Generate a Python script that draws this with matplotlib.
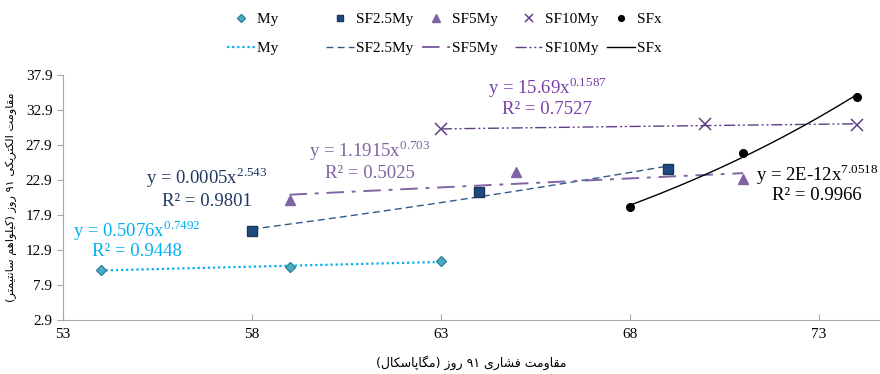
import numpy as np
import matplotlib
matplotlib.use("Agg")
import matplotlib.pyplot as plt
from matplotlib.lines import Line2D

plt.rcParams['font.family'] = ['Liberation Serif', 'DejaVu Sans']
plt.rcParams['mathtext.fontset'] = 'custom'
plt.rcParams['mathtext.rm'] = 'Liberation Serif'

# data (x: compressive strength, y: electrical resistivity)
my_x = [54, 59, 63]
my_y = [10.05, 10.5, 11.3]
sf25_x = [58, 64, 69]
sf25_y = [15.65, 21.2, 24.4]
sf5_x = [59, 65, 71]
sf5_y = [20.1, 24.0, 23.0]
sf10_x = [63, 70, 74]
sf10_y = [30.1, 30.9, 30.75]
sfx_x = [68, 71, 74]
sfx_y = [19.1, 26.7, 34.7]

names = ['My', 'SF2.5My', 'SF5My', 'SF10My', 'SFx']
equations = [r'y = 0.5076x$^{\mathregular{0.7492}}$',
             r'y = 0.0005x$^{\mathregular{2.543}}$',
             r'y = 1.1915x$^{\mathregular{0.703}}$',
             r'y = 15.69x$^{\mathregular{0.1587}}$',
             r'y = 2E-12x$^{\mathregular{7.0518}}$']
r2 = ['R² = 0.9448', 'R² = 0.9801', 'R² = 0.5025', 'R² = 0.7527', 'R² = 0.9966']

xlabel = 'مقاومت فشاری ۹۱ روز (مگاپاسکال)'
ylabel = 'مقاومت الکتریکی ۹۱ روز (کیلواهم سانتیمتر)'

# --- tiny persian shaper (matplotlib has no arabic shaping) ---
forms = {
    'ا': ('\uFE8D', '\uFE8E', None, None),
    'ت': ('\uFE95', '\uFE96', '\uFE97', '\uFE98'),
    'ر': ('\uFEAD', '\uFEAE', None, None),
    'ز': ('\uFEAF', '\uFEB0', None, None),
    'س': ('\uFEB1', '\uFEB2', '\uFEB3', '\uFEB4'),
    'ش': ('\uFEB5', '\uFEB6', '\uFEB7', '\uFEB8'),
    'ف': ('\uFED1', '\uFED2', '\uFED3', '\uFED4'),
    'ق': ('\uFED5', '\uFED6', '\uFED7', '\uFED8'),
    'ل': ('\uFEDD', '\uFEDE', '\uFEDF', '\uFEE0'),
    'م': ('\uFEE1', '\uFEE2', '\uFEE3', '\uFEE4'),
    'ن': ('\uFEE5', '\uFEE6', '\uFEE7', '\uFEE8'),
    'ه': ('\uFEE9', '\uFEEA', '\uFEEB', '\uFEEC'),
    'و': ('\uFEED', '\uFEEE', None, None),
    'پ': ('\uFB56', '\uFB57', '\uFB58', '\uFB59'),
    'ک': ('\uFB8E', '\uFB8F', '\uFB90', '\uFB91'),
    'گ': ('\uFB92', '\uFB93', '\uFB94', '\uFB95'),
    'ی': ('\uFBFC', '\uFBFD', '\uFBFE', '\uFBFF'),
}


def shape(s):
    out = []
    for i, c in enumerate(s):
        if c not in forms:
            out.append(c)
            continue
        p = s[i - 1] if i > 0 else ''
        n = s[i + 1] if i + 1 < len(s) else ''
        join_prev = p in forms and forms[p][2] is not None
        join_next = n in forms and forms[c][2] is not None
        iso, fin, ini, med = forms[c]
        if join_prev and join_next:
            out.append(med)
        elif join_prev:
            out.append(fin)
        elif join_next:
            out.append(ini)
        else:
            out.append(iso)
    vis = ''.join(out)[::-1]
    # digits stay left-to-right, brackets are mirrored
    res, run = '', ''
    for c in vis:
        if c in '۰۱۲۳۴۵۶۷۸۹':
            run += c
        else:
            res += run[::-1]
            run = ''
            res += {'(': ')', ')': '('}.get(c, c)
    return res + run[::-1]


def power_fit(x, y):
    b, a = np.polyfit(np.log(x), np.log(y), 1)
    xs = np.linspace(min(x), max(x), 60)
    return xs, np.exp(a) * xs ** b


fig = plt.figure(figsize=(8.8, 3.74), dpi=100)
ax = fig.add_axes([0.0713, 0.144, 0.9287, 0.656])

series = [
    (my_x, my_y, dict(marker='D', color='#4bacc6', ms=5.5, mec='#31859c'),
     dict(color='#00b0f0', ls=(0, (1, 1.3)), lw=1.6), '#00b0f0', (137, 231, 252)),
    (sf25_x, sf25_y, dict(marker='s', color='#1f497d', ms=6.5, mec='#17375e'),
     dict(color='#2e5b8c', ls=(0, (5, 3)), lw=1.0), '#1f3864', (207, 178, 201)),
    (sf5_x, sf5_y, dict(marker='^', color='#8064a2', ms=7, mec='#8064a2'),
     dict(color='#8064a2', ls=(0, (9, 4, 2, 4)), lw=1.4), '#8064a2', (370, 151, 173)),
    (sf10_x, sf10_y, dict(marker='x', color='#5f3f86', ms=8, mew=1.1),
     dict(color='#5f3f86', ls=(0, (8, 2, 1.5, 2, 1.5, 2)), lw=1.0), '#7a3fa8', (547, 88, 109)),
    (sfx_x, sfx_y, dict(marker='o', color='black', ms=5.5),
     dict(color='black', ls='-', lw=1.0), 'black', (817, 175, 195)),
]

handles = []
pad = {'My': 'My          ', 'SF2.5My': 'SF2.5My', 'SF5My': 'SF5My  ',
       'SF10My': 'SF10My', 'SFx': 'SFx'}
for (x, y, mk, ln, tc, pos), name, eq, r in zip(series, names, equations, r2):
    xs, ys = power_fit(x, y)
    ax.plot(xs, ys, zorder=2, **ln)
    ax.plot(x, y, ls='none', zorder=3, **mk)
    handles.append(Line2D([], [], ls='none', **mk, label=pad[name]))
    handles.append(Line2D([], [], **ln, label=pad[name]))
    px, py1, py2 = pos
    fx = px / 880
    fig.text(fx, 1 - py1 / 374, eq, color=tc, fontsize=13.5, ha='center', va='center')
    fig.text(fx, 1 - py2 / 374, r, color=tc, fontsize=13.5, ha='center', va='center')

ax.set_xlim(53, 74.62)
ax.set_ylim(2.9, 37.9)
ax.set_xticks([53, 58, 63, 68, 73])
ax.set_yticks(np.arange(2.9, 38, 5))
ax.set_yticklabels(['2.9', '7.9', '12.9', '17.9', '22.9', '27.9', '32.9', '37.9'])
for s in ['top', 'right']:
    ax.spines[s].set_visible(False)
for s in ['left', 'bottom']:
    ax.spines[s].set_color('#a6a6a6')
ax.tick_params(axis='y', direction='out', length=4, color='#a6a6a6', labelsize=11)
ax.tick_params(axis='x', direction='in', length=4, color='#a6a6a6', labelsize=11, pad=6)

ax.set_xlabel(shape(xlabel), family=['DejaVu Sans'], fontsize=9, labelpad=10)
ax.set_ylabel(shape(ylabel), family=['DejaVu Sans'], fontsize=8.2, labelpad=6)

fig.legend(handles=handles, ncol=5, loc='center', bbox_to_anchor=(0.505, 0.91),
           frameon=False, fontsize=11, handlelength=1.8, handletextpad=0.15,
           columnspacing=0.6, labelspacing=1.0, markerscale=0.75)

fig.savefig('out.png', dpi=100)
